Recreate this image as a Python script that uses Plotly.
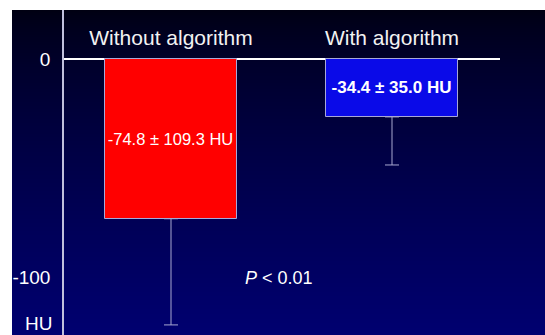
import base64
import struct
import zlib

import plotly.graph_objects as go

# ---- data ----
categories = ["Without algorithm", "With algorithm"]
mean_values = [-73.1, -26.5]          # bar ends as drawn
error_down = [48.6, 22.0]             # visible whisker lengths
bar_labels = ["-74.8 ± 109.3 HU", "-34.4 ± 35.0 HU"]
y_tick_values = [0, -100]
y_tick_labels = ["0", "-100"]
unit_label = "HU"
p_label = "<i>P</i> < 0.01"

# ---- styles ----
W, H = 545, 335
bar_colors = ["#ff0000", "#0a0ae8"]
label_sizes = [16.5, 17]
label_bold = [False, True]


def gradient_png(w, h, top_b, bot_b, gamma):
    rows = b""
    for i in range(h):
        f = i / (h - 1)
        b = int(round(top_b + (bot_b - top_b) * (f ** gamma)))
        rows += b"\x00" + bytes((0, 0, b)) * w

    def chunk(tag, data):
        c = struct.pack(">I", len(data)) + tag + data
        return c + struct.pack(">I", zlib.crc32(tag + data) & 0xFFFFFFFF)

    png = b"\x89PNG\r\n\x1a\n"
    png += chunk(b"IHDR", struct.pack(">IIBBBBB", w, h, 8, 2, 0, 0, 0))
    png += chunk(b"IDAT", zlib.compress(rows, 9))
    png += chunk(b"IEND", b"")
    return "data:image/png;base64," + base64.b64encode(png).decode()


bg = gradient_png(4, H - 10, 18, 112, 0.75)

fig = go.Figure()

texts = [f"<b>{t}</b>" if b else t for t, b in zip(bar_labels, label_bold)]
fig.add_trace(go.Bar(
    x=categories, y=mean_values, width=0.593,
    marker=dict(color=bar_colors, line=dict(color="#a8a8d8", width=1)),
    error_y=dict(type="data", symmetric=False, array=[0, 0], arrayminus=error_down,
                 color="#a8a8d0", thickness=1, width=7),
    text=texts, textposition="inside", insidetextanchor="middle",
    constraintext="none", textangle=0,
    textfont=dict(color="white", size=label_sizes, family="Liberation Sans, Arial"),
    showlegend=False, hoverinfo="skip",
))

# y range: 0 at 59px, -100 at 277.5px
ppu = (277.5 - 59) / 100
y_top = (59 - 10) / ppu
y_bot = -(H - 59) / ppu

fig.update_layout(
    width=W, height=H,
    margin=dict(l=0, r=0, t=0, b=0),
    paper_bgcolor="white", plot_bgcolor="rgba(0,0,0,0)",
    images=[dict(source=bg, xref="paper", yref="paper",
                 x=12 / W, y=1 - 10 / H, sizex=(W - 12) / W, sizey=(H - 10) / H,
                 xanchor="left", yanchor="top", sizing="stretch", layer="below")],
    bargap=0,
    font=dict(family="Liberation Sans, Arial", color="white"),
    xaxis=dict(
        domain=[64 / W, 500 / W],
        range=[-107 / 221, (500 - 171) / 221],
        anchor="free", position=1 - 59 / H, side="top",
        showline=False, showgrid=False, zeroline=False,
        ticks="outside", ticklen=6, tickcolor="rgba(0,0,0,0)",
        tickfont=dict(size=21, color="#f2f2f2", family="Liberation Sans, Arial"),
    ),
    yaxis=dict(
        domain=[0, 1 - 10 / H],
        range=[y_bot, y_top],
        showline=True, linecolor="#c0c0dc", linewidth=1.5,
        showgrid=False,
        zeroline=True, zerolinecolor="white", zerolinewidth=2,
        tickvals=y_tick_values, ticktext=y_tick_labels,
        ticks="outside", ticklen=8, tickcolor="rgba(0,0,0,0)",
        tickfont=dict(size=19, color="white", family="Liberation Sans, Arial"),
    ),
    annotations=[
        dict(text=unit_label, xref="paper", yref="paper", x=38.5 / W, y=1 - 323 / H,
             showarrow=False, xanchor="center", yanchor="middle",
             font=dict(size=19, color="white")),
        dict(text=p_label, xref="paper", yref="y", x=278.5 / W, y=-100,
             showarrow=False, xanchor="center", yanchor="middle",
             font=dict(size=18, color="white")),
    ],
)

fig.write_html("out.html", config={"displayModeBar": False},
               post_script="document.body.style.margin='0';document.body.style.overflow='hidden';")
